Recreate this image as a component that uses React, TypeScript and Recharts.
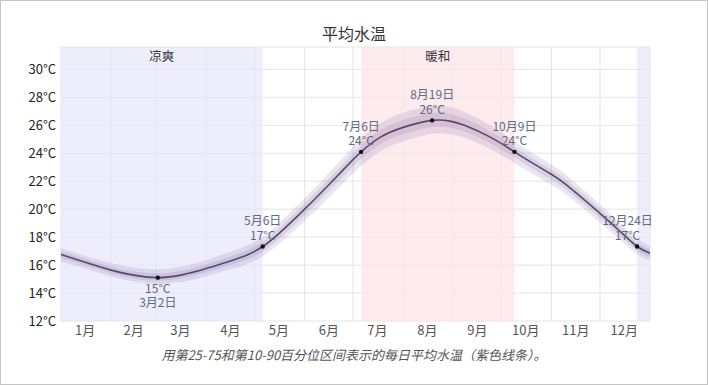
import {
  Area,
  CartesianGrid,
  ComposedChart,
  Line,
  ReferenceArea,
  Scatter,
  XAxis,
  YAxis,
} from "recharts";

// day of year (0 = Jan 1) and daily water temperature percentiles, °C
const DAYS = [0, 15, 31, 45, 60, 75, 90, 105, 115, 125, 135, 151, 166, 176, 186, 198, 212, 230, 241, 250, 266, 281, 290, 303, 313, 334, 347, 357, 365];
const MEAN = [16.75, 16.2, 15.64, 15.28, 15.1, 15.3, 15.75, 16.3, 16.7, 17.33, 18.25, 20.0, 21.75, 22.95, 24.1, 25.15, 25.85, 26.35, 26.3, 26.0, 25.15, 24.1, 23.45, 22.55, 21.75, 19.7, 18.35, 17.33, 16.85];
const P10 = [16.25, 15.75, 15.19, 14.83, 14.65, 14.8, 15.2, 15.7, 16.05, 16.63, 17.5, 19.15, 20.85, 22.0, 23.1, 24.15, 24.85, 25.4, 25.35, 25.1, 24.3, 23.3, 22.67, 21.8, 21.05, 19.05, 17.75, 16.78, 16.35];
const P25 = [16.5, 15.98, 15.42, 15.06, 14.88, 15.05, 15.48, 16.0, 16.38, 16.98, 17.87, 19.57, 21.3, 22.47, 23.6, 24.65, 25.35, 25.88, 25.82, 25.55, 24.72, 23.7, 23.06, 22.17, 21.4, 19.37, 18.05, 17.05, 16.6];
const P75 = [16.98, 16.42, 15.88, 15.55, 15.4, 15.6, 16.05, 16.62, 17.04, 17.68, 18.62, 20.4, 22.18, 23.4, 24.58, 25.65, 26.38, 26.88, 26.8, 26.48, 25.58, 24.48, 23.81, 22.9, 22.1, 20.03, 18.65, 17.6, 17.1];
const P90 = [17.2, 16.65, 16.14, 15.83, 15.7, 15.9, 16.35, 16.95, 17.38, 18.03, 19.0, 20.8, 22.6, 23.85, 25.05, 26.15, 26.9, 27.4, 27.3, 26.95, 26.0, 24.85, 24.17, 23.25, 22.45, 20.35, 18.95, 17.88, 17.35];

// annotated days
const ANN_DAYS = [60, 125, 186, 230, 281, 357];
const ANN_TEMPS = [15.1, 17.33, 24.1, 26.35, 24.1, 17.33];
const ANN_DATES = ["3月2日", "5月6日", "7月6日", "8月19日", "10月9日", "12月24日"];
const ANN_LABELS = ["15°C", "17°C", "24°C", "26°C", "24°C", "17°C"];

// seasons: [start day, end day, label]
const COOL = [
  [0, 125, "凉爽"],
  [357, 365, ""],
] as const;
const WARM = [[186, 281, "暖和"]] as const;

const MONTH_MIDS = [15, 45, 74, 105, 135, 166, 196, 227, 258, 288, 319, 349];
const MONTH_STARTS = [31, 59, 90, 120, 151, 181, 212, 243, 273, 304, 334];
const MONTH_NAMES = ["1月", "2月", "3月", "4月", "5月", "6月", "7月", "8月", "9月", "10月", "11月", "12月"];
const Y_TICKS = [12, 14, 16, 18, 20, 22, 24, 26, 28, 30];

const FONT = "'Noto Sans CJK SC', 'Noto Sans', sans-serif";
const CHART_W = 706;
const CHART_H = 350;
const MARGIN = { top: 46, right: 57, bottom: 0, left: 0 };

const data = DAYS.map((day, i) => ({
  day,
  mean: MEAN[i],
  outer: [P10[i], P90[i]],
  inner: [P25[i], P75[i]],
}));

const annotations = ANN_DAYS.map((day, i) => ({
  day,
  temp: ANN_TEMPS[i],
  date: ANN_DATES[i],
  label: ANN_LABELS[i],
}));
const minTemp = Math.min(...ANN_TEMPS);

function textWidth(s: string, size: number) {
  let w = 0;
  for (const ch of s) w += /[\u4e00-\u9fff]/.test(ch) ? size : size * 0.56;
  return w;
}

// dot plus a two-line label (date / temperature), below the dot for the yearly minimum
function AnnotationShape(props: any) {
  const { cx, cy, payload } = props;
  if (cx == null || cy == null) return null;
  const size = 12;
  const below = payload.temp === minTemp;
  const half = Math.max(textWidth(payload.date, size), textWidth(payload.label, size)) / 2;
  const plotRight = CHART_W - MARGIN.right;
  const tx = Math.min(cx, plotRight - half + 3);
  const first = below ? payload.label : payload.date;
  const second = below ? payload.date : payload.label;
  const y1 = below ? cy + 15 : cy - 21;
  return (
    <g>
      <circle cx={cx} cy={cy} r={2.2} fill="#111" />
      <text x={tx} y={y1} textAnchor="middle" fontSize={size} fill="#5d6b7c" fontFamily={FONT}>
        <tspan x={tx}>{first}</tspan>
        <tspan x={tx} dy={14.5}>
          {second}
        </tspan>
      </text>
    </g>
  );
}

export default function App() {
  return (
    <div
      style={{
        position: "relative",
        width: 708,
        height: 385,
        boxSizing: "border-box",
        border: "1px solid #c4c4c4",
        background: "#fff",
        fontFamily: FONT,
      }}
    >
      <style>{"body{margin:0}"}</style>
      <div style={{ position: "absolute", top: 20, left: 0, width: 706, textAlign: "center", fontSize: 16, color: "#333" }}>
        平均水温
      </div>
      <ComposedChart width={CHART_W} height={CHART_H} data={data} margin={MARGIN}>
        <XAxis xAxisId="grid" dataKey="day" type="number" domain={[0, 365]} ticks={MONTH_STARTS} hide />
        <CartesianGrid xAxisId="grid" stroke="#e4e4e8" />
        <XAxis
          dataKey="day"
          type="number"
          domain={[0, 365]}
          ticks={MONTH_MIDS}
          tickFormatter={(v: number) => MONTH_NAMES[MONTH_MIDS.indexOf(v)]}
          axisLine={false}
          tickLine={false}
          tickSize={3}
          tick={{ fontSize: 13, fill: "#555", fontFamily: FONT }}
          height={30}
          interval={0}
        />
        <YAxis
          type="number"
          domain={[12, 31.6]}
          ticks={Y_TICKS}
          tickFormatter={(v: number) => `${v}°C`}
          axisLine={false}
          tickLine={false}
          tickSize={3}
          tickMargin={2}
          tick={{ fontSize: 13, fill: "#222", fontFamily: FONT }}
          width={60}
          interval={0}
        />
        {COOL.map(([a, b, name]) => (
          <ReferenceArea
            key={`c${a}`}
            x1={a}
            x2={b}
            fill="#e6e6fa"
            fillOpacity={0.7}
            stroke="none"
            label={name ? { value: name, position: "insideTop", fill: "#333", fontSize: 12.5, fontFamily: FONT } : undefined}
          />
        ))}
        {WARM.map(([a, b, name]) => (
          <ReferenceArea
            key={`w${a}`}
            x1={a}
            x2={b}
            fill="#fce2e7"
            fillOpacity={0.7}
            stroke="none"
            label={{ value: name, position: "insideTop", fill: "#333", fontSize: 12.5, fontFamily: FONT }}
          />
        ))}
        <Area type="natural" dataKey="outer" stroke="none" fill="#6a4c93" fillOpacity={0.14} isAnimationActive={false} />
        <Area type="natural" dataKey="inner" stroke="none" fill="#6a4c93" fillOpacity={0.14} isAnimationActive={false} />
        <Line type="natural" dataKey="mean" stroke="#5a4a6a" strokeWidth={1.6} dot={false} isAnimationActive={false} />
        <Scatter data={annotations} dataKey="temp" shape={AnnotationShape} isAnimationActive={false} />
      </ComposedChart>
      <div
        style={{
          position: "absolute",
          top: 344,
          left: 0,
          width: 706,
          textAlign: "center",
          fontSize: 13,
          fontStyle: "italic",
          color: "#555",
        }}
      >
        用第25-75和第10-90百分位区间表示的每日平均水温（紫色线条）。
      </div>
    </div>
  );
}
